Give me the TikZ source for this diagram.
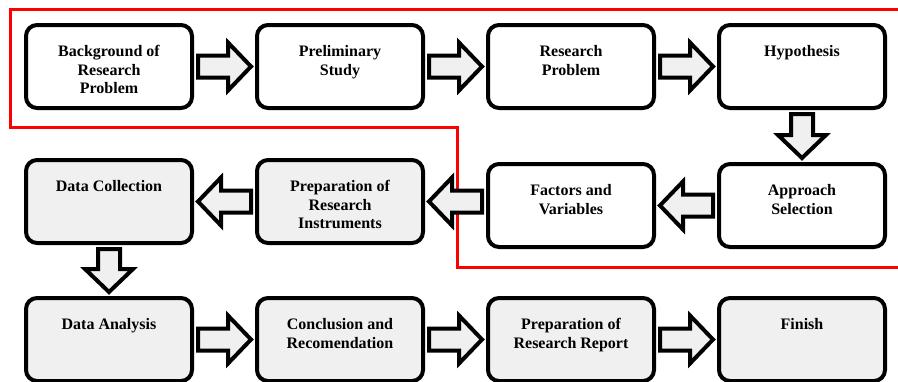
\documentclass[tikz,border=0pt]{standalone}
\usepackage{fontspec}
\setmainfont{Liberation Serif}
\usetikzlibrary{positioning,calc}
\definecolor{boxgray}{HTML}{F0F0F0}
\definecolor{outlinered}{HTML}{FF0000}

\begin{document}
\begin{tikzpicture}[x=1pt, y=-1pt, node distance=61pt and 61pt,
    stage/.style={draw, line width=4pt, rounded corners=11pt, fill=white, inner sep=0pt,
        minimum width=166pt, minimum height=83pt,
        font=\fontsize{16}{18.5}\selectfont\bfseries,
        execute at begin node={\begin{minipage}[c][42pt][t]{156pt}\centering},
        execute at end node={\end{minipage}}},
    done/.style={stage, fill=boxgray},
    flowarr/.style={draw, line width=4pt, fill=boxgray, to path={
        ($(\tikztostart)!11pt!90:(\tikztotarget)$)
        -- ($(\tikztotarget)!23pt!(\tikztostart)!11pt!90:(\tikztotarget)$)
        -- ($(\tikztotarget)!23pt!(\tikztostart)!24pt!90:(\tikztotarget)$)
        -- (\tikztotarget)
        -- ($(\tikztotarget)!23pt!(\tikztostart)!24pt!-90:(\tikztotarget)$)
        -- ($(\tikztotarget)!23pt!(\tikztostart)!11pt!-90:(\tikztotarget)$)
        -- ($(\tikztostart)!11pt!-90:(\tikztotarget)$) -- cycle}}]

    \useasboundingbox (0,0) rectangle (898,381);

    % red frame round the first part
    \draw[outlinered, line width=3pt] (900,9) -| (10,127) -| (457,267) -- (900,267);

    \node[stage] (bg) at (109,66.5) {Background of\\Research\\Problem};
    \node[stage, right=of bg] (prelim) {Preliminary\\Study};
    \node[stage, right=of prelim] (problem) {Research\\Problem};
    \node[stage, right=of problem] (hypo) {Hypothesis};

    \node[stage, below=52pt of hypo] (approach) {Approach\\Selection};
    \node[stage, left=of approach] (factors) {Factors and\\Variables};
    \node[done, left=of factors, yshift=4pt] (instr) {Preparation of\\Research\\Instruments};
    \node[done, left=of instr] (collect) {Data Collection};

    \node[done, below=51pt of collect] (analysis) {Data Analysis};
    \node[done, right=of analysis] (concl) {Conclusion and\\Recomendation};
    \node[done, right=of concl] (report) {Preparation of\\Research Report};
    \node[done, right=of report] (finish) {Finish};

    \draw[flowarr] ([xshift=4pt]bg.east) to ([xshift=-4pt]prelim.west);
    \draw[flowarr] ([xshift=4pt]prelim.east) to ([xshift=-4pt]problem.west);
    \draw[flowarr] ([xshift=4pt]problem.east) to ([xshift=-4pt]hypo.west);
    \draw[flowarr] ([yshift=-4pt]hypo.south) to ([yshift=4pt]approach.north);
    \draw[flowarr] ([xshift=-4pt]approach.west) to ([xshift=4pt]factors.east);
    \draw[flowarr] ([xshift=-4pt]factors.west |- instr.east) to ([xshift=4pt]instr.east);
    \draw[flowarr] ([xshift=-4pt]instr.west) to ([xshift=4pt]collect.east);
    \draw[flowarr] ([yshift=-4pt]collect.south) to ([yshift=4pt]analysis.north);
    \draw[flowarr] ([xshift=4pt]analysis.east) to ([xshift=-4pt]concl.west);
    \draw[flowarr] ([xshift=4pt]concl.east) to ([xshift=-4pt]report.west);
    \draw[flowarr] ([xshift=4pt]report.east) to ([xshift=-4pt]finish.west);
\end{tikzpicture}
\end{document}
